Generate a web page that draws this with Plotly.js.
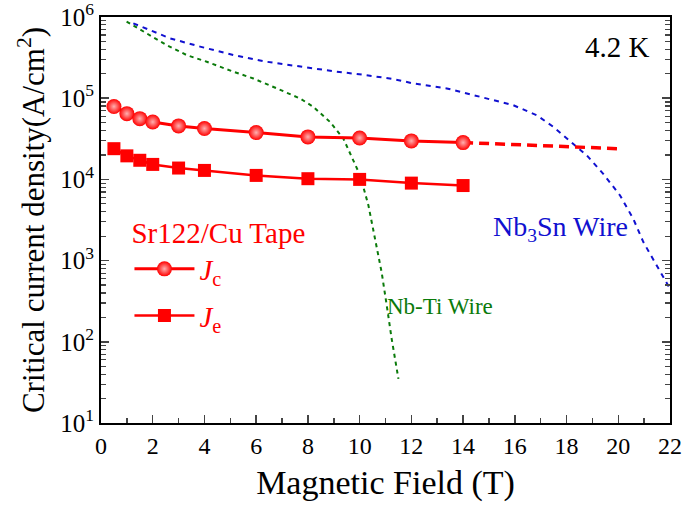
<!DOCTYPE html>
<html><head><meta charset="utf-8">
<script src="https://cdn.plot.ly/plotly-3.0.1.min.js"></script>
<style>html,body{margin:0;padding:0;background:#fff}#chart{width:685px;height:508px}</style>
</head><body><div id="chart"></div>
<script>
// Sr122/Cu tape data
const fieldTape = [0.5, 1, 1.5, 2, 3, 4, 6, 8, 10, 12, 14];
const jcTape = [79000, 64500, 56000, 51000, 45600, 42300, 37700, 33400, 32400, 29800, 28400];
const jeTape = [23900, 19500, 17200, 15300, 13800, 12900, 11200, 10200, 10000, 9000, 8400];
// Jc extrapolation
const fieldExtrap = [14, 20];
const jcExtrap = [28400, 23900];
// Nb-Ti wire
const fieldNbTi = [0.99, 1.89, 2.54, 3.31, 4.09, 5.12, 5.89, 6.80, 7.70, 8.21, 8.85, 9.37, 10.02, 10.34, 10.60, 10.85, 11.05, 11.24, 11.50];
const jcNbTi = [877000, 600000, 451000, 340000, 281000, 212000, 175000, 132000, 99100, 78300, 51200, 31800, 11200, 4780, 1850, 720, 278, 108, 35];
// Nb3Sn wire
const fieldNb3Sn = [1.25, 1.89, 2.67, 3.83, 5.12, 6.41, 7.70, 8.98, 10.27, 11.30, 12.08, 13.37, 14.66, 15.94, 16.85, 17.49, 18.78, 19.42, 20.07, 20.58, 20.97, 21.42, 21.81, 22.0];
const jcNb3Sn = [836000, 692000, 546000, 432000, 340000, 281000, 244000, 215000, 192000, 172000, 152000, 132000, 104000, 82000, 61700, 44400, 19800, 11700, 6340, 3270, 1690, 955, 566, 450];
const xTicks = [0, 2, 4, 6, 8, 10, 12, 14, 16, 18, 20, 22];
const yTickVals = [10, 100, 1000, 10000, 100000, 1000000];
const yTickText = ['10<sup>1</sup>', '10<sup>2</sup>', '10<sup>3</sup>', '10<sup>4</sup>', '10<sup>5</sup>', '10<sup>6</sup>'];

const serif = 'Times New Roman, Liberation Serif, DejaVu Serif, serif';
const red = '#ff0000';

const traces = [
  {x: fieldNbTi, y: jcNbTi, mode: 'lines', line: {color: '#0a7a0a', width: 2, dash: '4px,4px'}, showlegend: false, hoverinfo: 'skip'},
  {x: fieldNb3Sn, y: jcNb3Sn, mode: 'lines', line: {color: '#1010d0', width: 2, dash: '5px,5px'}, showlegend: false, hoverinfo: 'skip'},
  {x: fieldExtrap, y: jcExtrap, mode: 'lines', line: {color: red, width: 3.5, dash: '10px,6px'}, showlegend: false, hoverinfo: 'skip'},
  {x: fieldTape, y: jcTape, mode: 'lines+markers', name: '<i>J</i><sub>c</sub>', legendgroup: 'a',
   line: {color: red, width: 3}, marker: {symbol: 'circle', size: 15, color: red, gradient: {type: 'radial', color: '#ffb0b0'}, line: {width: 0}}},
  {x: fieldTape, y: jeTape, mode: 'lines+markers', name: '<i>J</i><sub>e</sub>', legendgroup: 'b',
   line: {color: red, width: 2.5}, marker: {symbol: 'square', size: 13, color: red, line: {width: 0}}}
];

const layout = {
  width: 685, height: 508,
  margin: {l: 101, r: 15, t: 17, b: 85},
  paper_bgcolor: '#fff', plot_bgcolor: '#fff',
  font: {family: serif, color: '#000', size: 20},
  xaxis: {
    range: [0, 22], tickvals: xTicks, ticks: 'inside', ticklen: 8, tickwidth: 1.5,
    showline: true, linecolor: '#000', linewidth: 2, mirror: true, showgrid: false, zeroline: false,
    tickfont: {size: 24, family: serif, color: '#000'},
    minor: {ticks: 'inside', ticklen: 5, tickwidth: 1.5, dtick: 1, showgrid: false},
    title: {text: 'Magnetic Field (T)', font: {size: 34, family: serif, color: '#000'}, standoff: 12}
  },
  yaxis: {
    type: 'log', range: [0.9999, 6.0001], tickvals: yTickVals, ticktext: yTickText, ticks: 'inside', ticklen: 8, tickwidth: 1.5,
    showline: true, linecolor: '#000', linewidth: 2, mirror: 'ticks', showgrid: false, zeroline: false,
    ticklabeloverflow: 'allow',
    tickfont: {size: 25, family: serif, color: '#000'},
    minor: {ticks: 'inside', ticklen: 5, tickwidth: 1.2, dtick: 'D1', showgrid: false},
    title: {text: 'Critical current density(A/cm<sup>2</sup>)', font: {size: 31, family: serif, color: '#000'}, standoff: 6}
  },
  showlegend: true,
  legend: {
    x: 0.05, y: 0.535, xanchor: 'left', yanchor: 'top', bgcolor: 'rgba(0,0,0,0)',
    font: {size: 29, color: red, family: serif}, traceorder: 'grouped', tracegroupgap: 6,
    title: {text: 'Sr122/Cu Tape', font: {size: 29, color: red, family: serif}},
    itemwidth: 60
  },
  annotations: [
    {xref: 'paper', yref: 'paper', x: 0.907, y: 0.926, xanchor: 'center', yanchor: 'middle', text: '4.2 K', showarrow: false, font: {size: 29, color: '#000', family: serif}},
    {xref: 'paper', yref: 'paper', x: 0.807, y: 0.48, xanchor: 'center', yanchor: 'middle', text: 'Nb<sub>3</sub>Sn Wire', showarrow: false, font: {size: 28, color: '#1010d0', family: serif}},
    {xref: 'paper', yref: 'paper', x: 0.596, y: 0.288, xanchor: 'center', yanchor: 'middle', text: 'Nb-Ti Wire', showarrow: false, font: {size: 23, color: '#0a7a0a', family: serif}}
  ]
};

Plotly.newPlot('chart', traces, layout, {staticPlot: true});
</script></body></html>
